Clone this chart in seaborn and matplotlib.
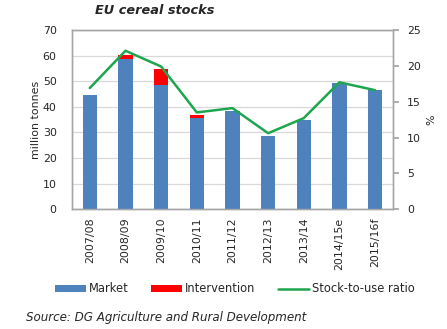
import numpy as np
import pandas as pd
import matplotlib
matplotlib.use("Agg")
import matplotlib.pyplot as plt
import seaborn as sns
from matplotlib.patches import Patch
from matplotlib.lines import Line2D

# ---- data ----
seasons = ["2007/08", "2008/09", "2009/10", "2010/11", "2011/12",
           "2012/13", "2013/14", "2014/15e", "2015/16f"]
market = [44.6, 58.5, 48.5, 35.8, 38.2, 28.7, 34.7, 49.4, 46.5]
intervention = [0.0, 1.7, 6.1, 0.8, 0.0, 0.0, 0.0, 0.0, 0.0]
stock_to_use = [16.9, 22.1, 19.9, 13.5, 14.1, 10.6, 12.7, 17.7, 16.6]
left_ticks = [0, 10, 20, 30, 40, 50, 60, 70]
right_ticks = [0, 5, 10, 15, 20, 25]

df = pd.DataFrame({"season": seasons, "market": market,
                   "intervention": intervention, "ratio": stock_to_use})
df["total"] = df["market"] + df["intervention"]

BLUE = "#4F81BD"
RED = "#FF0000"
GREEN = "#1EA64E"
GRID = "#D9D9D9"
SPINE = "#A6A6A6"

sns.set_theme(style="white")
plt.rcParams["font.family"] = ["DejaVu Sans"]
FS = 7.9

fig = plt.figure(figsize=(4.47, 3.29), dpi=100)
ax = fig.add_axes([0.161, 0.364, 0.718, 0.545])

sns.barplot(data=df, x="season", y="total", color=RED, width=0.4,
            saturation=1, ax=ax, errorbar=None, zorder=2, linewidth=0)
sns.barplot(data=df, x="season", y="market", color=BLUE, width=0.4,
            saturation=1, ax=ax, errorbar=None, zorder=3, linewidth=0)

ax.set_ylim(0, 70)
ax.set_yticks(left_ticks)
ax.set_xlim(-0.5, len(seasons) - 0.5)
ax.yaxis.grid(True, color=GRID, linewidth=0.9, zorder=0)
ax.set_axisbelow(True)
ax.set_xlabel("")
ax.set_ylabel("million tonnes", fontsize=FS, labelpad=1)
ax.tick_params(axis="y", length=0, labelsize=FS, pad=11)
ax.tick_params(axis="x", length=0, labelsize=FS, rotation=90, pad=6)
for s in ax.spines.values():
    s.set_color(SPINE)
    s.set_linewidth(1.0)

ax2 = ax.twinx()
sns.pointplot(x=df["season"], y=df["ratio"], color=GREEN, markers="",
              linestyles="-", ax=ax2, errorbar=None)
for ln in ax2.lines:
    ln.set_linewidth(1.8)
ax2.set_ylim(0, 25)
ax2.set_yticks(right_ticks)
ax2.set_xlim(-0.5, len(seasons) - 0.5)
ax2.set_ylabel("%", fontsize=FS, labelpad=4)
ax2.tick_params(axis="y", length=4, color=SPINE, labelsize=FS, pad=6, direction="out")
for s in ax2.spines.values():
    s.set_color(SPINE)
    s.set_linewidth(1.0)

fig.text(0.213, 0.968, "EU cereal stocks", fontsize=9.3, fontweight="bold",
         fontstyle="italic", ha="left", va="center")

handles = [Patch(facecolor=BLUE, edgecolor="none"),
           Patch(facecolor=RED, edgecolor="none"),
           Line2D([0], [0], color=GREEN, lw=1.8)]
fig.legend(handles, ["Market", "Intervention", "Stock-to-use ratio"],
           loc="center", bbox_to_anchor=(0.525, 0.122), ncol=3, frameon=False,
           fontsize=8.3, handlelength=2.7, handleheight=0.55, handletextpad=0.2,
           columnspacing=2.0)

fig.text(0.058, 0.036, "Source: DG Agriculture and Rural Development",
         fontsize=8.6, fontstyle="italic", ha="left", va="center")

fig.savefig("out.png", dpi=100)
